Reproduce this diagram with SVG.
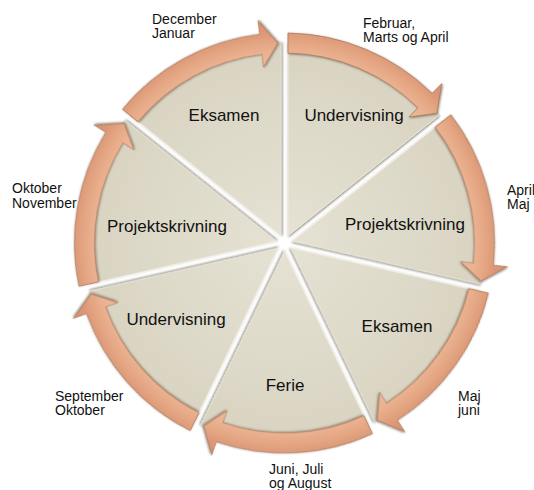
<svg xmlns="http://www.w3.org/2000/svg" xmlns:xlink="http://www.w3.org/1999/xlink" width="534" height="490" viewBox="0 0 534 490">
  <style>
    .lbl { font-family: "Liberation Sans", Arial, sans-serif; font-size: 17px; fill: #111; text-anchor: middle; }
    .mon { font-family: "Liberation Sans", Arial, sans-serif; font-size: 14px; fill: #111; }
  </style>
  <defs>
    <filter id="sh" x="-20%" y="-20%" width="140%" height="140%">
      <feDropShadow dx="0.8" dy="0.8" stdDeviation="1.1" flood-color="#5e5b4c" flood-opacity="0.75"/>
    </filter>
    <radialGradient id="wg" gradientUnits="userSpaceOnUse" cx="0" cy="0" r="200">
      <stop offset="0" stop-color="#E6E2D4"/>
      <stop offset="0.6" stop-color="#DEDAC9"/>
      <stop offset="1" stop-color="#D9D3C1"/>
    </radialGradient>
    <radialGradient id="ag" gradientUnits="userSpaceOnUse" cx="0" cy="0" r="224">
      <stop offset="0.79" stop-color="#EDB898"/>
      <stop offset="0.85" stop-color="#EAB291"/>
      <stop offset="0.90" stop-color="#E4A582"/>
      <stop offset="0.94" stop-color="#DC9977"/>
      <stop offset="1" stop-color="#D38E6C"/>
    </radialGradient>
    <path id="wedge" d="M 3.5,-7.268 L 3.5,-199.969 A 200 200 0 0 1 154.160,-127.415 Z" fill="url(#wg)" stroke="#EEEBE0" stroke-width="1"/>
    <path id="arrow" d="M 3.5,-189.968 L 3.5,-209.971 A 210 210 0 0 1 147.527,-149.452 L 157.362,-159.415 L 152.146,-129.814 L 124.344,-125.966 L 133.477,-135.218 A 190 190 0 0 0 3.5,-189.968 Z" fill="url(#ag)" stroke="#B17C60" stroke-width="0.8" stroke-linejoin="miter"/>
  </defs>

  <g id="nodes">
    <g id="n1-undervisning">
      <use xlink:href="#wedge" href="#wedge" filter="url(#sh)" transform="translate(284.5 243) rotate(0)"/>
      <text class="lbl" x="354" y="121">Undervisning</text>
      <text class="mon" x="363" y="28">Februar,</text>
      <text class="mon" x="363" y="42">Marts og April</text>
    </g>
    <g id="n2-projektskrivning">
      <use xlink:href="#wedge" href="#wedge" filter="url(#sh)" transform="translate(284.5 243) rotate(51.4286)"/>
      <text class="lbl" x="405" y="230">Projektskrivning</text>
      <text class="mon" x="507" y="195">April</text>
      <text class="mon" x="507" y="209">Maj</text>
    </g>
    <g id="n3-eksamen">
      <use xlink:href="#wedge" href="#wedge" filter="url(#sh)" transform="translate(284.5 243) rotate(102.8571)"/>
      <text class="lbl" x="397" y="332">Eksamen</text>
      <text class="mon" x="458" y="401">Maj</text>
      <text class="mon" x="458" y="415">juni</text>
    </g>
    <g id="n4-ferie">
      <use xlink:href="#wedge" href="#wedge" filter="url(#sh)" transform="translate(284.5 243) rotate(154.2857)"/>
      <text class="lbl" x="285" y="391">Ferie</text>
      <text class="mon" x="269" y="474">Juni, Juli</text>
      <text class="mon" x="269" y="488">og August</text>
    </g>
    <g id="n5-undervisning">
      <use xlink:href="#wedge" href="#wedge" filter="url(#sh)" transform="translate(284.5 243) rotate(205.7143)"/>
      <text class="lbl" x="176" y="325">Undervisning</text>
      <text class="mon" x="55" y="401">September</text>
      <text class="mon" x="55" y="415">Oktober</text>
    </g>
    <g id="n6-projektskrivning">
      <use xlink:href="#wedge" href="#wedge" filter="url(#sh)" transform="translate(284.5 243) rotate(257.1429)"/>
      <text class="lbl" x="167" y="232">Projektskrivning</text>
      <text class="mon" x="12" y="193">Oktober</text>
      <text class="mon" x="12" y="208">November</text>
    </g>
    <g id="n7-eksamen">
      <use xlink:href="#wedge" href="#wedge" filter="url(#sh)" transform="translate(284.5 243) rotate(308.5714)"/>
      <text class="lbl" x="224" y="121">Eksamen</text>
      <text class="mon" x="152" y="24">December</text>
      <text class="mon" x="152" y="38">Januar</text>
    </g>
  </g>

  <g id="connectors">
    <use xlink:href="#arrow" href="#arrow" filter="url(#sh)" transform="translate(284.5 243) rotate(0)"/>
    <use xlink:href="#arrow" href="#arrow" filter="url(#sh)" transform="translate(284.5 243) rotate(51.4286)"/>
    <use xlink:href="#arrow" href="#arrow" filter="url(#sh)" transform="translate(284.5 243) rotate(102.8571)"/>
    <use xlink:href="#arrow" href="#arrow" filter="url(#sh)" transform="translate(284.5 243) rotate(154.2857)"/>
    <use xlink:href="#arrow" href="#arrow" filter="url(#sh)" transform="translate(284.5 243) rotate(205.7143)"/>
    <use xlink:href="#arrow" href="#arrow" filter="url(#sh)" transform="translate(284.5 243) rotate(257.1429)"/>
    <use xlink:href="#arrow" href="#arrow" filter="url(#sh)" transform="translate(284.5 243) rotate(308.5714)"/>
  </g>
</svg>
